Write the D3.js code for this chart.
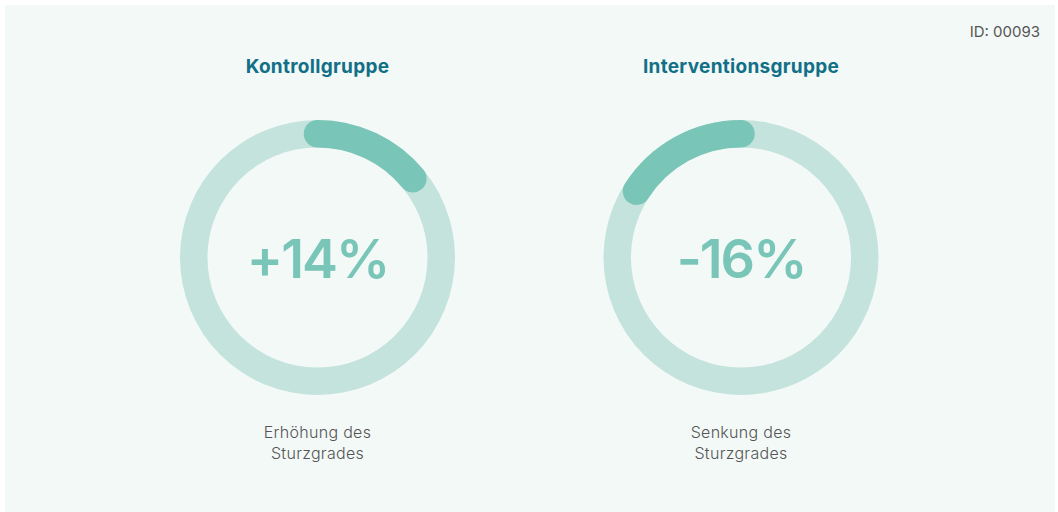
<!DOCTYPE html>
<html>
<head>
<meta charset="utf-8">
<script src="https://cdn.jsdelivr.net/npm/d3@7"></script>
<style>
  body { margin: 0; background: #ffffff; }
  svg { display: block; }
</style>
</head>
<body>
<div id="chart"></div>
<script>
const groups = ["Kontrollgruppe", "Interventionsgruppe"];
const changes = [14, -16];
const captions = [["Erhöhung des", "Sturzgrades"], ["Senkung des", "Sturzgrades"]];
const chartId = "ID: 00093";

const width = 1058, height = 512;
const svg = d3.select("#chart").append("svg")
    .attr("width", width)
    .attr("height", height);

svg.append("rect")
    .attr("x", 5).attr("y", 5)
    .attr("width", 1050).attr("height", 507)
    .attr("fill", "#f3f9f7");

svg.append("text")
    .attr("x", 1040).attr("y", 37)
    .attr("text-anchor", "end")
    .style("font-family", "Inter, 'Open Sans', sans-serif")
    .style("font-size", "15px")
    .attr("fill", "#555")
    .text(chartId);

const x = d3.scalePoint().domain(groups).range([317.5, 741]);
const cy = 257.5, rOuter = 137.5, rInner = 110;
const rMid = (rOuter + rInner) / 2, ring = rOuter - rInner;
const angle = d3.scaleLinear().domain([0, 100]).range([0, 2 * Math.PI]);

const track = d3.arc().innerRadius(rInner).outerRadius(rOuter)
    .startAngle(0).endAngle(2 * Math.PI);

// progress stroke along the ring centre, round caps
function progressPath(v) {
    const p = d3.path();
    const a0 = -Math.PI / 2, a1 = angle(v) - Math.PI / 2;
    p.moveTo(rMid * Math.cos(a0), rMid * Math.sin(a0));
    p.arc(0, 0, rMid, a0, a1, v < 0);
    return p.toString();
}

const g = svg.selectAll("g.gauge")
    .data(groups)
    .enter()
    .append("g")
    .attr("class", "gauge")
    .attr("transform", d => `translate(${x(d)},0)`);

g.append("text")
    .attr("y", 73)
    .attr("text-anchor", "middle")
    .style("font-family", "Inter, 'Open Sans', sans-serif")
    .style("font-weight", 700)
    .style("font-size", "19px")
    .style("letter-spacing", "0.3px")
    .attr("fill", "#116f87")
    .text(d => d);

g.append("path")
    .attr("transform", `translate(0,${cy})`)
    .attr("d", track())
    .attr("fill", "#c4e3dc");

g.append("path")
    .attr("transform", `translate(0,${cy})`)
    .attr("d", (d, i) => progressPath(changes[i]))
    .attr("fill", "none")
    .attr("stroke", "#79c5b8")
    .attr("stroke-width", ring)
    .attr("stroke-linecap", "round");

g.append("text")
    .attr("y", 278)
    .attr("text-anchor", "middle")
    .style("font-family", "Inter, 'Open Sans', sans-serif")
    .style("font-weight", 600)
    .style("font-size", "54px")
    .style("letter-spacing", "-2px")
    .attr("fill", "#79c5b8")
    .text((d, i) => (changes[i] > 0 ? "+" : "-") + Math.abs(changes[i]) + "%");

g.each(function (d, i) {
    d3.select(this).selectAll("text.caption")
        .data(captions[i])
        .enter()
        .append("text")
        .attr("class", "caption")
        .attr("y", (c, j) => 438 + j * 21)
        .attr("text-anchor", "middle")
        .style("font-family", "Inter, 'Open Sans', sans-serif")
        .style("font-weight", 300)
        .style("font-size", "16px")
        .style("letter-spacing", "0.3px")
        .attr("fill", "#555")
        .text(c => c);
});
</script>
</body>
</html>
